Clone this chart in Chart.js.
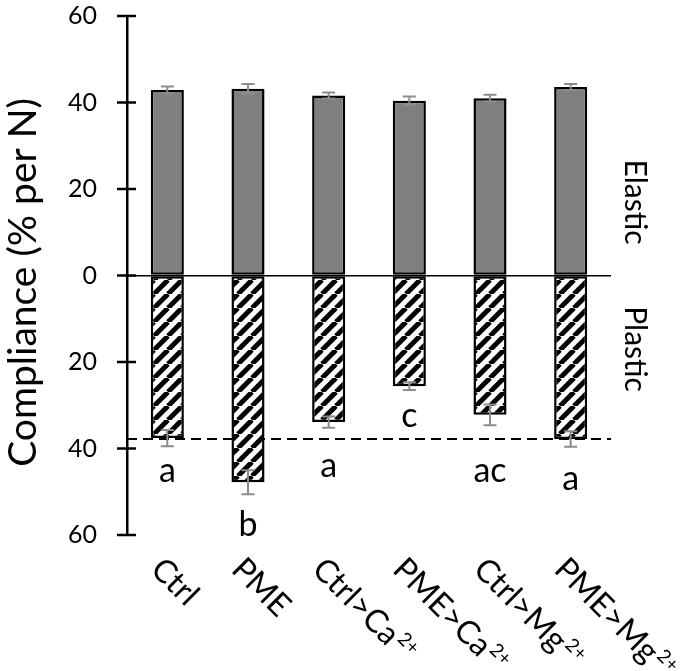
<!DOCTYPE html>
<html>
<head>
<meta charset="utf-8">
<script src="https://cdn.jsdelivr.net/npm/chart.js@4.4.1/dist/chart.umd.min.js"></script>
<style>
  html, body { margin: 0; padding: 0; background: #fff; }
  #wrap { width: 688px; height: 671px; }
</style>
</head>
<body>
<div id="wrap"><canvas id="complianceChart"></canvas></div>
<script>
// treatments (x axis), superscript part drawn separately
const categories = ['Ctrl', 'PME', 'Ctrl>Ca', 'PME>Ca', 'Ctrl>Mg', 'PME>Mg'];
const superscripts = ['', '', '2+', '2+', '2+', '2+'];

// compliance, % per N
const elastic = [42.9, 43.2, 41.6, 40.4, 41.0, 43.6];
const elasticErr = [0.8, 1.1, 0.7, 1.0, 0.8, 0.7];
const plastic = [37.6, 47.8, 33.9, 25.6, 32.2, 37.8];
const plasticErr = [1.9, 2.8, 1.3, 0.9, 2.4, 1.8];

// significance groups
const letters = ['a', 'b', 'a', 'c', 'ac', 'a'];
const letterDepth = [47.7, 60.3, 46.6, 35.0, 47.7, 49.5];

const ctrlLevel = 37.8;
const yTicks = [-60, -40, -20, 0, 20, 40, 60];
const yTitle = 'Compliance (% per N)';
const sideLabels = ['Elastic', 'Plastic'];

const FONT = 'Lato, "Open Sans", sans-serif';

function makeHatch() {
    const s = 14;
    const c = document.createElement('canvas');
    c.width = s;
    c.height = s;
    const g = c.getContext('2d');
    g.fillStyle = '#fff';
    g.fillRect(0, 0, s, s);
    g.strokeStyle = '#000';
    g.lineWidth = 5;
    for (let k = -1; k <= 1; k++) {
        g.beginPath();
        g.moveTo(k * s, s);
        g.lineTo(k * s + s, 0);
        g.stroke();
    }
    return g.createPattern(c, 'repeat');
}

const extras = {
    id: 'extras',
    beforeDatasetsDraw(chart) {
        const ctx = chart.ctx;
        const y = chart.scales.y;
        const area = chart.chartArea;
        const py = y.getPixelForValue(-ctrlLevel);
        ctx.save();
        ctx.strokeStyle = '#000';
        ctx.lineWidth = 2;
        ctx.setLineDash([10, 6]);
        ctx.beginPath();
        ctx.moveTo(area.left, py);
        ctx.lineTo(area.right, py);
        ctx.stroke();
        ctx.restore();
    },
    afterDatasetsDraw(chart) {
        const ctx = chart.ctx;
        const x = chart.scales.x;
        const y = chart.scales.y;
        const area = chart.chartArea;
        ctx.save();

        // crossing tick marks
        ctx.strokeStyle = '#000';
        ctx.lineWidth = 2.5;
        yTicks.forEach(v => {
            const py = y.getPixelForValue(v);
            ctx.beginPath();
            ctx.moveTo(y.right - 10, py);
            ctx.lineTo(y.right + 9, py);
            ctx.stroke();
        });

        // error bars
        ctx.strokeStyle = '#8c8c8c';
        ctx.lineWidth = 2;
        const bar = (cx, lo, hi) => {
            const a = y.getPixelForValue(lo), b = y.getPixelForValue(hi);
            ctx.beginPath();
            ctx.moveTo(cx, a); ctx.lineTo(cx, b);
            ctx.moveTo(cx - 6.5, a); ctx.lineTo(cx + 6.5, a);
            ctx.moveTo(cx - 6.5, b); ctx.lineTo(cx + 6.5, b);
            ctx.stroke();
        };
        categories.forEach((c, i) => {
            const cx = x.getPixelForValue(i);
            bar(cx, elastic[i] - elasticErr[i], elastic[i] + elasticErr[i]);
            bar(cx, -plastic[i] + plasticErr[i], -plastic[i] - plasticErr[i]);
        });

        // letters
        ctx.fillStyle = '#000';
        ctx.font = '34px ' + FONT;
        ctx.textAlign = 'center';
        ctx.textBaseline = 'alphabetic';
        letters.forEach((t, i) => {
            ctx.fillText(t, x.getPixelForValue(i), y.getPixelForValue(-letterDepth[i]));
        });

        // x labels, rotated 45deg clockwise
        categories.forEach((c, i) => {
            ctx.save();
            ctx.translate(x.getPixelForValue(i) - 18, area.bottom + 36);
            ctx.rotate(Math.PI / 4);
            ctx.textAlign = 'left';
            ctx.font = '32px ' + FONT;
            ctx.fillText(c, 0, 0);
            if (superscripts[i]) {
                const w = ctx.measureText(c).width;
                ctx.font = '19px ' + FONT;
                ctx.fillText(superscripts[i], w + 2, -12);
            }
            ctx.restore();
        });

        // side labels
        ctx.font = '30px ' + FONT;
        [17, -17].forEach((v, k) => {
            ctx.save();
            ctx.translate(area.right + 14, y.getPixelForValue(v));
            ctx.rotate(Math.PI / 2);
            ctx.fillText(sideLabels[k], 0, 0);
            ctx.restore();
        });

        // y title
        ctx.save();
        ctx.translate(36, (area.top + area.bottom) / 2 + 7);
        ctx.rotate(-Math.PI / 2);
        ctx.font = '39px ' + FONT;
        ctx.fillText(yTitle, 0, 0);
        ctx.restore();

        ctx.restore();
    }
};

const barCommon = {
    borderColor: '#000',
    borderWidth: 2.5,
    borderSkipped: false,
    categoryPercentage: 1,
    barPercentage: 0.41
};

const complianceChart = new Chart(document.getElementById('complianceChart'), {
    type: 'bar',
    data: {
        labels: categories,
        datasets: [
            Object.assign({ label: 'Elastic', data: elastic, backgroundColor: '#7f7f7f' }, barCommon),
            Object.assign({ label: 'Plastic', data: plastic.map(v => -v), backgroundColor: makeHatch() }, barCommon)
        ]
    },
    options: {
        responsive: true,
        maintainAspectRatio: false,
        animation: false,
        layout: { padding: { top: 16, right: 77, bottom: 0, left: 0 } },
        plugins: {
            legend: { display: false },
            tooltip: { enabled: false }
        },
        scales: {
            x: {
                stacked: true,
                grid: { display: false },
                border: { display: false },
                ticks: { display: false },
                afterFit: s => { s.height = 136; }
            },
            y: {
                stacked: true,
                min: -60,
                max: 60,
                afterFit: s => { s.width = 127; },
                ticks: {
                    stepSize: 20,
                    padding: 0,
                    color: '#000',
                    font: { family: FONT, size: 25 },
                    callback: v => Math.abs(v)
                },
                grid: {
                    drawTicks: true,
                    tickLength: 30,
                    tickColor: 'rgba(0,0,0,0)',
                    lineWidth: 1.5,
                    color: c => c.tick && c.tick.value === 0 ? '#000' : 'rgba(0,0,0,0)'
                },
                border: { display: true, color: '#000', width: 2.5 }
            }
        }
    },
    plugins: [extras]
});
</script>
</body>
</html>
